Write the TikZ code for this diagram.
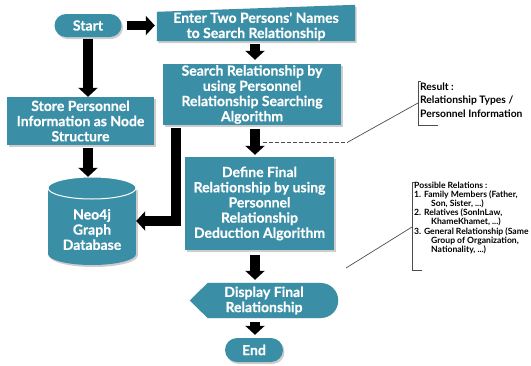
\documentclass[tikz,border=0pt]{standalone}
\usepackage{fontspec}
\setmainfont{Lato}
\newfontfamily\heavyfont[FakeBold=0.4]{Lato Bold}
\usetikzlibrary{arrows.meta,shadows,calc}
\definecolor{tealbox}{RGB}{58,143,166}
\definecolor{shadowgray}{RGB}{205,205,205}
\pgfdeclarelayer{bg}
\pgfsetlayers{bg,main}
\begin{document}
\begin{tikzpicture}[x=1pt,y=-1pt,
  boxtext/.style={text=white, font=\heavyfont\fontsize{14}{15.2}\selectfont, align=center, inner sep=0pt},
  box/.style={boxtext, fill=tealbox, drop shadow={shadow xshift=1.5pt,shadow yshift=-2pt,fill=shadowgray,opacity=1}},
  bigarrow/.style={line width=9.5pt, -{Triangle[width=19pt,length=9pt]}},
  note/.style={draw=black!70, line width=0.7pt},
  notetext/.style={inner sep=0pt, align=left, text=black},
]
\useasboundingbox (0,0) rectangle (531,365);
\coordinate (col) at (255,0);

% left column
\node[box, rounded corners=11.5pt, minimum width=67pt, minimum height=23pt] (start) at (88,25.5) {Start};
\node[box, minimum width=147pt, minimum height=48pt] (store) at (80.5,121) {Store Personnel\\Information as Node\\Structure};

% database cylinder
\node[minimum width=88pt, minimum height=88pt, inner sep=0pt] (db) at (92,221) {};
\begin{pgfonlayer}{bg}
  \fill[shadowgray] (49.5,190) rectangle (137.5,256);
  \fill[shadowgray] (93.5,256) ellipse[x radius=44, y radius=11];
  \fill[tealbox] (48,188) rectangle (136,254);
  \fill[tealbox] (92,254) ellipse[x radius=44, y radius=11];
  \filldraw[fill=tealbox, draw=white, line width=1pt] (92,188) ellipse[x radius=44, y radius=11];
\end{pgfonlayer}
\node[boxtext] (dbtext) at (92,229.5) {Neo4j\\Graph\\Database};

% right column
\node[boxtext, minimum width=198pt, minimum height=29pt] (enter) at (256,26.5) {Enter Two Persons' Names\\to Search Relationship};
\begin{pgfonlayer}{bg}
  \fill[shadowgray] ([shift={(1.5,2)}]enter.south west) -- ([shift={(1.5,2)}]enter.north west) -- ([shift={(1.5,-5)}]enter.north east) -- ([shift={(1.5,2)}]enter.south east) -- cycle;
  \fill[tealbox] (enter.south west) -- (enter.north west) -- ([shift={(0,-7)}]enter.north east) -- (enter.south east) -- cycle;
\end{pgfonlayer}
\node[box, minimum width=178pt, minimum height=61pt] (search) at (252,94.5) {Search Relationship by\\using Personnel\\Relationship Searching\\Algorithm};
\node[box, minimum width=149pt, minimum height=93pt] (define) at (259.5,203.5) {Define Final\\Relationship by using\\Personnel\\Relationship\\Deduction Algorithm};

% display shape
\node[boxtext, minimum width=148pt, minimum height=35pt] (disp) at (264,300.5) {Display Final\\Relationship};
\begin{pgfonlayer}{bg}
  \begin{scope}[shift={(1.5,2)}]
    \fill[shadowgray] (disp.west) -- ([xshift=18pt]disp.north west) -- ([xshift=-17.5pt]disp.north east) -- ([xshift=-17.5pt]disp.south east) -- ([xshift=18pt]disp.south west) -- cycle;
    \fill[shadowgray] ([xshift=-17.5pt]disp.east) circle[radius=17.5];
  \end{scope}
  \fill[tealbox] (disp.west) -- ([xshift=18pt]disp.north west) -- ([xshift=-17.5pt]disp.north east) -- ([xshift=-17.5pt]disp.south east) -- ([xshift=18pt]disp.south west) -- cycle;
  \fill[tealbox] ([xshift=-17.5pt]disp.east) circle[radius=17.5];
\end{pgfonlayer}
\node[box, rounded corners=12pt, minimum width=58pt, minimum height=24pt] (end) at (254,350) {End};

% arrows
\draw[bigarrow, shorten <=5pt, shorten >=2pt] (start.east) -- (start.east -| enter.west);
\draw[bigarrow, shorten <=2pt] (start.south) -- (start.south |- store.north);
\draw[bigarrow, shorten <=3pt] (start.south |- store.south) -- (start.south |- db.north);
\draw[bigarrow, shorten <=3pt, shorten >=4pt] (col |- enter.south) -- (col |- search.north);
\draw[bigarrow, shorten <=4pt, shorten >=2pt] (col |- search.south) -- (col |- define.north);
\draw[bigarrow, shorten <=5pt, shorten >=3pt] (col |- define.south) -- (col |- disp.north);
\draw[bigarrow, shorten <=4pt, shorten >=3pt] (col |- disp.south) -- (col |- end.north);
\coordinate (bar) at (176,128);
\draw[bigarrow] (bar) |- (db.east);

% result note
\node[notetext, anchor=north west, font=\bfseries\fontsize{10.3}{13.5}\selectfont] (res) at (420,82.5) {Result :\\Relationship Types /\\Personnel Information};
\draw[note] (421,81) -- (418,81) -- (418,125) -- (438,125);
\coordinate (dashA) at (263,142);
\coordinate (dashB) at (348,142);
\coordinate (resbr) at (418,103);
\draw[note, dash pattern=on 4pt off 2pt] (dashA) -- (dashB);
\draw[note] (dashB) -- (resbr);

% possible relations note
\node[notetext, anchor=north west, font=\bfseries\fontsize{8.6}{9.2}\selectfont] (pos) at (414,181.5) {Possible Relations :\\1. Family Members (Father,\\\hspace*{17pt}Son, Sister, ...)\\2. Relatives (SonInLaw,\\\hspace*{17pt}KhameKhamet, ...)\\3. General Relationship (Same\\\hspace*{17pt}Group of Organization,\\\hspace*{17pt}Nationality, ...)};
\draw[note] (415,182) -- (412,182) -- (412,270) -- (422,270);
\coordinate (posfree) at (346,268);
\coordinate (posbr) at (412,227);
\draw[note] (posfree) -- (posbr);
\end{tikzpicture}
\end{document}
